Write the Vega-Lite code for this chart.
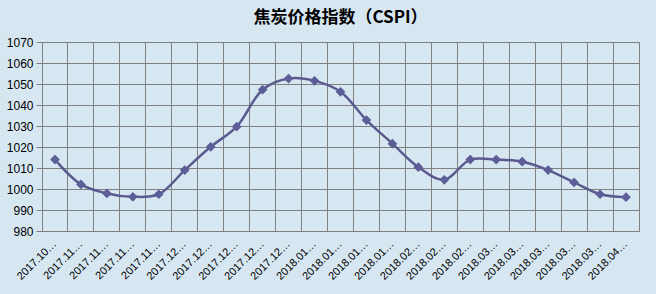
{
  "$schema": "https://vega.github.io/schema/vega-lite/v6.json",
  "width": 597,
  "height": 189,
  "autosize": {"type": "none"},
  "padding": {"left": 42, "top": 42, "right": 17, "bottom": 63},
  "background": "#d7e7f2",
  "title": {"text": "焦炭价格指数（CSPI）", "fontSize": 17, "font": "Noto Sans CJK SC", "fontWeight": "bold", "color": "#000000", "offset": 9, "anchor": "middle"},
  "config": {"view": {"stroke": "#808080", "strokeWidth": 1}},
  "data": {"values": [
    {"date": "2017.10.27", "cspi": 1014},
    {"date": "2017.11.03", "cspi": 1002.2},
    {"date": "2017.11.10", "cspi": 997.9},
    {"date": "2017.11.17", "cspi": 996.3},
    {"date": "2017.11.24", "cspi": 997.5},
    {"date": "2017.12.01", "cspi": 1009},
    {"date": "2017.12.08", "cspi": 1020.1},
    {"date": "2017.12.15", "cspi": 1029.7},
    {"date": "2017.12.22", "cspi": 1047.3},
    {"date": "2017.12.29", "cspi": 1052.6},
    {"date": "2018.01.05", "cspi": 1051.5},
    {"date": "2018.01.12", "cspi": 1046.3},
    {"date": "2018.01.19", "cspi": 1032.8},
    {"date": "2018.01.26", "cspi": 1021.6},
    {"date": "2018.02.02", "cspi": 1010.4},
    {"date": "2018.02.09", "cspi": 1004.4},
    {"date": "2018.02.23", "cspi": 1014},
    {"date": "2018.03.02", "cspi": 1014},
    {"date": "2018.03.09", "cspi": 1013},
    {"date": "2018.03.16", "cspi": 1009},
    {"date": "2018.03.23", "cspi": 1003.1},
    {"date": "2018.03.30", "cspi": 997.5},
    {"date": "2018.04.04", "cspi": 996.1}
  ]},
  "encoding": {
    "x": {
      "field": "date", "type": "ordinal", "sort": null,
      "scale": {"type": "band", "paddingInner": 0, "paddingOuter": 0},
      "axis": {"title": null, "labelAngle": -45, "labelAlign": "right", "labelBaseline": "middle",
        "labelExpr": "slice(datum.value,0,7)+'…'", "ticks": false, "bandPosition": 0,
        "grid": true, "gridColor": "#808080", "gridOpacity": 1, "domain": false,
        "labelFont": "Liberation Sans", "labelFontSize": 11, "labelColor": "#000000", "labelPadding": 11}
    },
    "y": {
      "field": "cspi", "type": "quantitative",
      "scale": {"domain": [980, 1070], "nice": false, "zero": false},
      "axis": {"title": null, "values": [980, 990, 1000, 1010, 1020, 1030, 1040, 1050, 1060, 1070], "format": "d",
        "grid": true, "gridColor": "#808080", "gridOpacity": 1, "tickColor": "#808080", "tickSize": 6,
        "domainColor": "#808080", "labelFont": "Liberation Sans", "labelFontSize": 12, "labelColor": "#000000", "labelPadding": 3}
    }
  },
  "layer": [
    {"mark": {"type": "line", "interpolate": "catmull-rom", "color": "#5a5a8e", "strokeWidth": 2.5}},
    {"mark": {"type": "point", "shape": "diamond", "filled": true, "size": 95, "color": "#5d5d98", "opacity": 1}},
    {
      "data": {"values": [{"logo": "■"}]},
      "mark": {"type": "text", "font": "DejaVu Sans", "fontSize": 38, "color": "#1c2b6b", "dx": -43, "baseline": "middle", "align": "center"},
      "encoding": {
        "x": {"datum": "2018.03.23", "type": "ordinal", "axis": {"title": null, "labelAngle": -45, "labelAlign": "right", "labelBaseline": "middle",
          "labelExpr": "slice(datum.value,0,7)+'…'", "ticks": false, "bandPosition": 0,
          "grid": true, "gridColor": "#808080", "gridOpacity": 1, "domain": false,
          "labelFont": "Liberation Sans", "labelFontSize": 11, "labelColor": "#000000", "labelPadding": 11}},
        "y": {"datum": 960, "type": "quantitative", "axis": {"title": null, "values": [980, 990, 1000, 1010, 1020, 1030, 1040, 1050, 1060, 1070], "format": "d",
          "grid": true, "gridColor": "#808080", "gridOpacity": 1, "tickColor": "#808080", "tickSize": 6,
          "domainColor": "#808080", "labelFont": "Liberation Sans", "labelFontSize": 12, "labelColor": "#000000", "labelPadding": 3}},
        "text": {"field": "logo"}
      }
    },
    {
      "data": {"values": [{"logo": "◢"}]},
      "mark": {"type": "text", "font": "DejaVu Sans", "fontSize": 30, "color": "#c8202a", "dx": -39, "baseline": "middle", "align": "center"},
      "encoding": {
        "x": {"datum": "2018.03.23", "type": "ordinal", "axis": {"title": null, "labelAngle": -45, "labelAlign": "right", "labelBaseline": "middle",
          "labelExpr": "slice(datum.value,0,7)+'…'", "ticks": false, "bandPosition": 0,
          "grid": true, "gridColor": "#808080", "gridOpacity": 1, "domain": false,
          "labelFont": "Liberation Sans", "labelFontSize": 11, "labelColor": "#000000", "labelPadding": 11}},
        "y": {"datum": 960, "type": "quantitative", "axis": {"title": null, "values": [980, 990, 1000, 1010, 1020, 1030, 1040, 1050, 1060, 1070], "format": "d",
          "grid": true, "gridColor": "#808080", "gridOpacity": 1, "tickColor": "#808080", "tickSize": 6,
          "domainColor": "#808080", "labelFont": "Liberation Sans", "labelFontSize": 12, "labelColor": "#000000", "labelPadding": 3}},
        "text": {"field": "logo"}
      }
    },
    {
      "data": {"values": [{"logo": "山西焦煤"}]},
      "mark": {"type": "text", "font": "Noto Sans CJK SC", "fontSize": 20, "fontWeight": "bold", "color": "#111111", "dx": 18, "baseline": "middle", "align": "center"},
      "encoding": {
        "x": {"datum": "2018.03.23", "type": "ordinal", "axis": {"title": null, "labelAngle": -45, "labelAlign": "right", "labelBaseline": "middle",
          "labelExpr": "slice(datum.value,0,7)+'…'", "ticks": false, "bandPosition": 0,
          "grid": true, "gridColor": "#808080", "gridOpacity": 1, "domain": false,
          "labelFont": "Liberation Sans", "labelFontSize": 11, "labelColor": "#000000", "labelPadding": 11}},
        "y": {"datum": 959, "type": "quantitative", "axis": {"title": null, "values": [980, 990, 1000, 1010, 1020, 1030, 1040, 1050, 1060, 1070], "format": "d",
          "grid": true, "gridColor": "#808080", "gridOpacity": 1, "tickColor": "#808080", "tickSize": 6,
          "domainColor": "#808080", "labelFont": "Liberation Sans", "labelFontSize": 12, "labelColor": "#000000", "labelPadding": 3}},
        "text": {"field": "logo"}
      }
    }
  ]
}
